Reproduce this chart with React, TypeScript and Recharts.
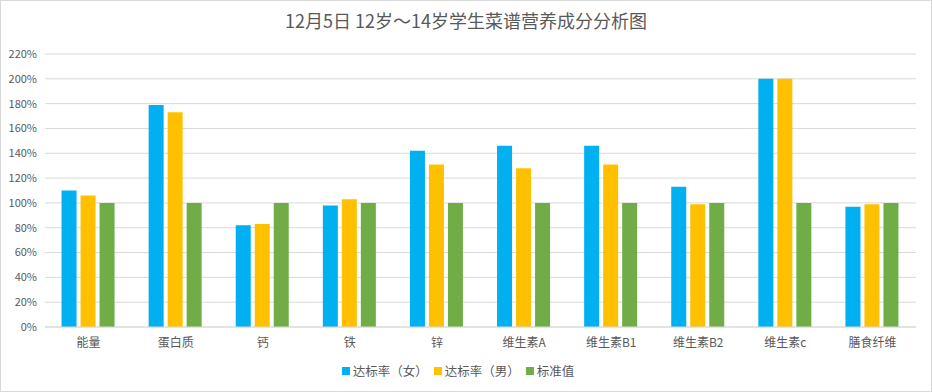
import React from 'react';
import { BarChart, Bar, XAxis, YAxis, CartesianGrid, Legend } from 'recharts';

const categories = ['能量', '蛋白质', '钙', '铁', '锌', '维生素A', '维生素B1', '维生素B2', '维生素c', '膳食纤维'];
const female = [110, 179, 82, 98, 142, 146, 146, 113, 200, 97];
const male = [106, 173, 83, 103, 131, 128, 131, 99, 200, 99];
const standard = [100, 100, 100, 100, 100, 100, 100, 100, 100, 100];
const yTicks = [0, 20, 40, 60, 80, 100, 120, 140, 160, 180, 200, 220];
const seriesNames = ['达标率（女）', '达标率（男）', '标准值'];
const colors = ['#00B0F0', '#FFC000', '#70AD47'];

const data = categories.map((c, i) => ({ name: c, f: female[i], m: male[i], s: standard[i] }));

const FONT = '"Noto Sans CJK SC", "Noto Sans", sans-serif';

const LegendContent = () => (
  <div style={{ display: 'flex', justifyContent: 'center', alignItems: 'center', fontFamily: FONT, fontSize: 12.5, color: '#595959', paddingLeft: 6 }}>
    {seriesNames.map((n, i) => (
      <div key={n} style={{ display: 'flex', alignItems: 'center', marginRight: 6 }}>
        <span style={{ width: 8, height: 8, background: colors[i], display: 'inline-block', marginRight: 3 }} />
        <span>{n}</span>
      </div>
    ))}
  </div>
);

export default function App() {
  return (
    <div style={{ position: 'fixed', left: 0, top: 0, width: 932, height: 392, boxSizing: 'border-box', border: '1px solid #d9d9d9', background: '#fff' }}>
      <div style={{ position: 'absolute', left: 0, top: 6, width: 930, textAlign: 'center', fontFamily: FONT, fontSize: 18, color: '#595959' }}>
        12月5日 12岁～14岁学生菜谱营养成分分析图
      </div>
      <div style={{ position: 'absolute', left: -1, top: -1 }}>
        <BarChart width={932} height={392} data={data} margin={{ top: 54, right: 16, left: 0, bottom: 16 }} barCategoryGap="19%" barGap={4}>
          <CartesianGrid vertical={false} stroke="#d9d9d9" />
          <XAxis dataKey="name" tickLine={false} axisLine={{ stroke: '#d9d9d9' }} height={30} interval={0} tickMargin={5}
            tick={{ fill: '#595959', fontSize: 12, fontFamily: FONT }} />
          <YAxis width={45} domain={[0, 220]} ticks={yTicks} tickFormatter={(v) => v + '%'} tickLine={false} axisLine={false}
            tick={{ fill: '#595959', fontSize: 11, fontFamily: FONT }} />
          <Legend verticalAlign="bottom" content={<LegendContent />} wrapperStyle={{ bottom: 12 }} />
          <Bar dataKey="f" name={seriesNames[0]} fill={colors[0]} isAnimationActive={false} />
          <Bar dataKey="m" name={seriesNames[1]} fill={colors[1]} isAnimationActive={false} />
          <Bar dataKey="s" name={seriesNames[2]} fill={colors[2]} isAnimationActive={false} />
        </BarChart>
      </div>
    </div>
  );
}
